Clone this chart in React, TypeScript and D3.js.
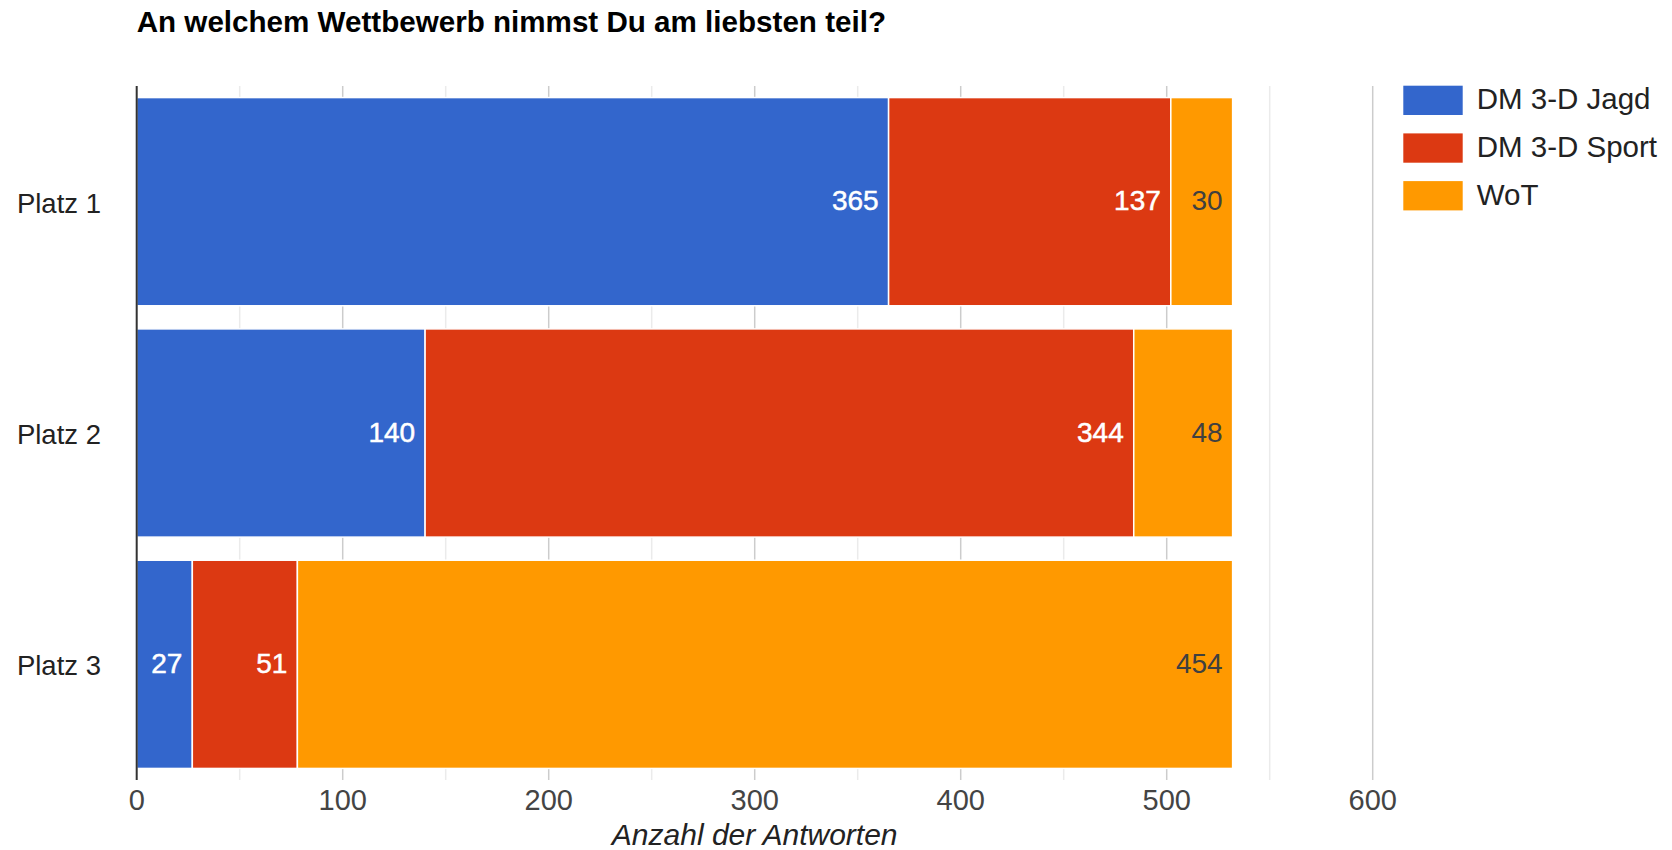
import React from "react";
import * as d3 from "d3";

const title = "An welchem Wettbewerb nimmst Du am liebsten teil?";
const categories = ["Platz 1", "Platz 2", "Platz 3"];
const seriesNames = ["DM 3-D Jagd", "DM 3-D Sport", "WoT"];
const jagd = [365, 140, 27];
const sport = [137, 344, 51];
const wot = [30, 48, 454];
const seriesColors = ["#3366cc", "#dc3912", "#ff9900"];
const labelColors = ["#ffffff", "#ffffff", "#404040"];
const majorTicks = [0, 100, 200, 300, 400, 500, 600];
const minorTicks = [50, 150, 250, 350, 450, 550];
const axisTitle = "Anzahl der Antworten";

const W = 1672;
const H = 850;
const FONT = "'Liberation Sans', Arial, Helvetica, sans-serif";

export default function App() {
  const x = d3.scaleLinear().domain([0, 600]).range([136.7, 1372.7]);
  const y = d3
    .scaleBand<string>()
    .domain(categories)
    .range([86, 780])
    .paddingInner(0.1)
    .paddingOuter(0.05);

  const series = [jagd, sport, wot];
  const rows = categories.map((c, i) => {
    const obj: any = { cat: c };
    seriesNames.forEach((s, k) => (obj[s] = series[k][i]));
    return obj;
  });
  const stacked = d3.stack<any>().keys(seriesNames)(rows);

  const gridTop = 86;
  const gridBottom = 780;

  return (
    <div style={{ position: "fixed", left: 0, top: 0 }}>
      <svg width={W} height={H} style={{ display: "block", background: "#fff" }} fontFamily={FONT}>
        <text x={136.7} y={32} fontSize={29.6} fontWeight="bold" fill="#000">
          {title}
        </text>

        {minorTicks.map((t) => (
          <line key={"m" + t} x1={x(t)} x2={x(t)} y1={gridTop} y2={gridBottom} stroke="#ebebeb" strokeWidth={1.5} />
        ))}
        {majorTicks.filter((t) => t !== 0).map((t) => (
          <line key={"M" + t} x1={x(t)} x2={x(t)} y1={gridTop} y2={gridBottom} stroke="#cccccc" strokeWidth={1.5} />
        ))}

        {stacked.map((layer, k) =>
          layer.map((d, i) => {
            const x0 = x(d[0]);
            const x1 = x(d[1]);
            const yy = y(categories[i])!;
            return (
              <rect
                key={k + "-" + i}
                x={x0}
                y={yy}
                width={x1 - x0}
                height={y.bandwidth()}
                fill={seriesColors[k]}
                stroke="#ffffff"
                strokeWidth={1.5}
              />
            );
          })
        )}

        {stacked.map((layer, k) =>
          layer.map((d, i) => {
            const x1 = x(d[1]);
            const yc = y(categories[i])! + y.bandwidth() / 2;
            return (
              <text
                key={"l" + k + "-" + i}
                x={x1 - 10}
                y={yc + 8.5}
                fontSize={28}
                textAnchor="end"
                fill={labelColors[k]}
                stroke={labelColors[k]}
                strokeWidth={labelColors[k] === "#ffffff" ? 0.5 : 0}
              >
                {series[k][i]}
              </text>
            );
          })
        )}

        <line x1={x(0)} x2={x(0)} y1={gridTop} y2={gridBottom} stroke="#333333" strokeWidth={2} />

        {categories.map((c) => (
          <text
            key={c}
            x={101}
            y={y(c)! + y.bandwidth() / 2 + 11}
            fontSize={27.5}
            textAnchor="end"
            fill="#222222"
          >
            {c}
          </text>
        ))}

        {majorTicks.map((t) => (
          <text key={"t" + t} x={x(t)} y={810} fontSize={29} textAnchor="middle" fill="#444444">
            {t}
          </text>
        ))}

        <text
          x={(x(0) + x(600)) / 2}
          y={845}
          fontSize={30}
          fontStyle="italic"
          textAnchor="middle"
          fill="#222222"
        >
          {axisTitle}
        </text>

        {seriesNames.map((s, k) => (
          <g key={s} transform={`translate(1403.3, ${85.7 + k * 47.7})`}>
            <rect width={59.4} height={29.3} fill={seriesColors[k]} />
            <text x={73.4} y={23.6} fontSize={29.5} fill="#222222">
              {s}
            </text>
          </g>
        ))}
      </svg>
    </div>
  );
}
